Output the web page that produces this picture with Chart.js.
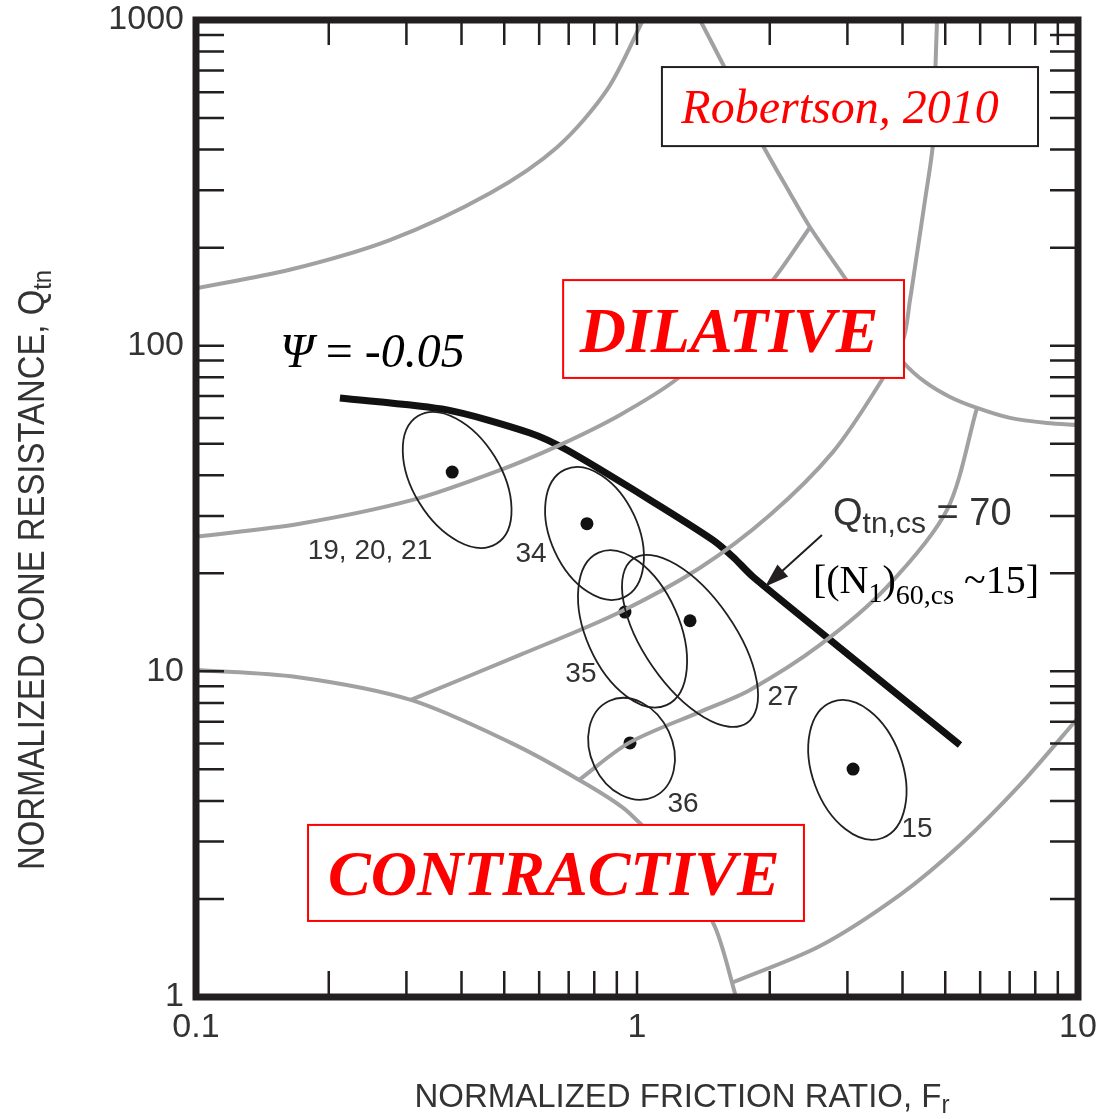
<!DOCTYPE html>
<html>
<head>
<meta charset="utf-8">
<script src="https://cdn.jsdelivr.net/npm/chart.js@4.4.1/dist/chart.umd.min.js"></script>
<style>
  html, body { margin: 0; padding: 0; background: #fff; }
  #wrap { width: 1099px; height: 1119px; position: relative; }
</style>
</head>
<body>
<div id="wrap"><canvas id="cpt"></canvas></div>
<script>
// tick labels
const xTickLabels = [0.1, 1, 10];
const yTickLabels = [1, 10, 100, 1000];
const minorSteps = [1, 2, 3, 4, 5, 6, 7, 8, 9];

// grey SBTn boundaries (Fr %, Qtn)
const bndA_fr = [0.1, 0.163, 0.275, 0.464, 0.659, 0.855, 1.032];
const bndA_q  = [150, 171, 211, 294, 407, 610, 1000];
const bndB_fr = [0.1, 0.172, 0.310, 0.489, 0.669, 0.915, 1.232, 1.625, 2.034, 2.468];
const bndB_q  = [25.9, 28.4, 33.6, 41.5, 49.6, 61.3, 79.0, 112, 159, 231];
const bndD_fr = [1.390, 1.625, 1.900, 2.223, 2.468, 2.994, 3.556, 4.031, 4.499, 5.126, 5.902, 7.013, 8.506, 10];
const bndD_q  = [1000, 663, 428, 294, 231, 158, 112, 88.5, 77.4, 69.6, 64.4, 60.0, 57.9, 57.1];
const bndF_fr = [0.307, 0.543, 0.906, 1.390, 2.002, 2.783, 3.556, 4.011, 4.159, 4.292, 4.499, 4.691, 4.740, 4.79];
const bndF_q  = [8.17, 11.23, 15.11, 20.8, 30.2, 47.2, 76.8, 104.1, 138, 183, 280, 419, 654, 1000];
const bndG_fr = [0.739, 0.959, 1.390, 1.804, 2.600, 3.689, 5.046, 5.902];
const bndG_q  = [4.64, 6.03, 7.51, 8.77, 12.05, 18.16, 31.3, 64.4];
const bndZ1_fr = [0.1, 0.169, 0.307, 0.518, 0.739, 0.959, 1.272, 1.503, 1.677];
const bndZ1_q  = [10.1, 9.61, 8.17, 6.03, 4.64, 3.68, 2.40, 1.64, 1];
const bndH_fr = [1.651, 2.600, 3.948, 5.40, 7.387, 10];
const bndH_q  = [1.11, 1.435, 2.06, 2.93, 4.48, 7.19];

// psi = -0.05 contour
const psiFr = [0.212, 0.371, 0.572, 0.694, 1.070, 1.487, 1.651, 1.833, 3.04, 5.40];
const psiQ  = [69.1, 63.5, 53.95, 47.8, 33.6, 25.3, 22.45, 19.5, 11.15, 5.94];

// case histories: mean points and scatter ellipses
const caseIds = ['19, 20, 21', '34', '35', '27', '36', '15'];
const caseFr  = [0.381, 0.770, 0.939, 1.319, 0.964, 3.09];
const caseQ   = [40.9, 28.4, 15.2, 14.3, 6.03, 5.01];
const ellFr    = [0.391, 0.801, 0.977, 1.319, 0.972, 3.16];
const ellQ     = [38.7, 26.5, 13.5, 12.4, 5.78, 4.98];
const ellAxFr  = [0.089, 0.067, 0.077, 0.129, 0.051, 0.057];   // major semi-axis, decades
const ellAxQ   = [-0.196, -0.196, -0.234, -0.252, -0.147, -0.209];
const ellRatio = [0.59, 0.62, 0.56, 0.455, 0.775, 0.62];
const labelFr  = [0.248, 0.575, 0.746, 2.144, 1.272, 4.314];
const labelQ   = [23.4, 22.9, 9.82, 8.34, 3.92, 3.28];

// arrow to the Qtn,cs = 70 line
const arrowFr = [2.627, 1.951];
const arrowQ  = [26.2, 18.2];

const GREY = '#a1a1a3';
const INK = '#231f20';
const SANS = '"Liberation Sans", Arial, sans-serif';
const SERIF = '"Liberation Serif", "Times New Roman", serif';

const pts = (fr, q) => fr.map((f, i) => ({ x: f, y: q[i] }));
const greyLine = (fr, q) => ({
    data: pts(fr, q), showLine: true, borderColor: GREY, borderWidth: 4,
    pointRadius: 0, tension: 0.3, fill: false
});

function runsWidth(ctx, runs) {
    return runs.reduce((w, r) => { ctx.font = r.font; return w + ctx.measureText(r.t).width; }, 0);
}
function drawRuns(ctx, runs, x, y, align, fitW, color) {
    const w = runsWidth(ctx, runs);
    const s = fitW ? fitW / w : 1;
    ctx.save();
    ctx.translate(x, y);
    ctx.scale(s, 1);
    ctx.fillStyle = color;
    ctx.textAlign = 'left';
    ctx.textBaseline = 'alphabetic';
    let cx = align === 'center' ? -w / 2 : (align === 'right' ? -w : 0);
    runs.forEach(r => {
        ctx.font = r.font;
        ctx.fillText(r.t, cx, r.dy || 0);
        cx += ctx.measureText(r.t).width;
    });
    ctx.restore();
}

// keep the plot frame where it is in the figure: no extra room for edge labels
const noPad = s => { s.paddingTop = 0; s.paddingBottom = 0; s.paddingLeft = 0; s.paddingRight = 0; };

const overlay = {
    id: 'overlay',
    afterDraw(chart) {
        const { ctx, chartArea: { left, top, right, bottom }, scales: { x, y } } = chart;
        const X = v => x.getPixelForValue(v);
        const Y = v => y.getPixelForValue(v);

        // ellipses
        ctx.save();
        ctx.strokeStyle = INK;
        ctx.lineWidth = 1.8;
        ellFr.forEach((f, i) => {
            const cx = X(f), cy = Y(ellQ[i]);
            const ex = X(f * Math.pow(10, ellAxFr[i])), ey = Y(ellQ[i] * Math.pow(10, ellAxQ[i]));
            const a = Math.hypot(ex - cx, ey - cy);
            ctx.beginPath();
            ctx.ellipse(cx, cy, a, a * ellRatio[i], Math.atan2(ey - cy, ex - cx), 0, Math.PI * 2);
            ctx.stroke();
        });
        ctx.restore();

        // case labels
        ctx.save();
        ctx.fillStyle = '#333';
        ctx.font = '28px ' + SANS;
        ctx.textAlign = 'center';
        ctx.textBaseline = 'middle';
        caseIds.forEach((t, i) => ctx.fillText(t, X(labelFr[i]), Y(labelQ[i])));
        ctx.restore();

        // boxes
        const box = (f0, f1, q0, q1, col) => {
            const bx = X(f0), by = Y(q0), bw = X(f1) - bx, bh = Y(q1) - by;
            ctx.save();
            ctx.fillStyle = '#fff';
            ctx.fillRect(bx, by, bw, bh);
            ctx.strokeStyle = col;
            ctx.lineWidth = 2;
            ctx.strokeRect(bx, by, bw, bh);
            ctx.restore();
        };
        box(1.139, 8.116, 717, 410, INK);
        box(0.680, 4.031, 159, 79.6, '#ff0000');
        box(0.1795, 2.391, 3.376, 1.712, '#ff0000');

        drawRuns(ctx, [{ t: 'Robertson, 2010', font: 'italic 48px ' + SERIF }], X(2.886), Y(483), 'center', 0, '#ff0000');
        drawRuns(ctx, [{ t: 'DILATIVE', font: 'italic bold 64px ' + SERIF }], X(1.617), Y(95.6), 'center', 0, '#ff0000');
        drawRuns(ctx, [{ t: 'CONTRACTIVE', font: 'italic bold 64px ' + SERIF }], X(0.648), Y(2.06), 'center', 0, '#ff0000');

        // psi label
        drawRuns(ctx, [
            { t: 'Ψ', font: 'italic 48px ' + SERIF },
            { t: ' = ', font: '48px ' + SERIF },
            { t: '-0.05', font: 'italic 48px ' + SERIF }
        ], X(0.155), Y(86.0), 'left', 0, '#000');

        // Qtn,cs = 70 and (N1)60,cs
        drawRuns(ctx, [
            { t: 'Q', font: '38px ' + SANS },
            { t: 'tn,cs', font: '30px ' + SANS, dy: 8 },
            { t: ' = 70', font: '38px ' + SANS }
        ], X(2.783), Y(28.1), 'left', 0, '#333');
        drawRuns(ctx, [
            { t: '[(N', font: '40px ' + SERIF },
            { t: '1', font: '28px ' + SERIF, dy: 9 },
            { t: ')', font: '40px ' + SERIF },
            { t: '60,cs', font: '28px ' + SERIF, dy: 11 },
            { t: ' ~15]', font: '40px ' + SERIF }
        ], X(2.506), Y(17.4), 'left', 0, '#000');

        // arrow
        const ax0 = X(arrowFr[0]), ay0 = Y(arrowQ[0]), ax1 = X(arrowFr[1]), ay1 = Y(arrowQ[1]);
        const ang = Math.atan2(ay1 - ay0, ax1 - ax0);
        ctx.save();
        ctx.strokeStyle = INK;
        ctx.fillStyle = INK;
        ctx.lineWidth = 2;
        ctx.beginPath();
        ctx.moveTo(ax0, ay0);
        ctx.lineTo(ax1 - 18 * Math.cos(ang), ay1 - 18 * Math.sin(ang));
        ctx.stroke();
        ctx.beginPath();
        ctx.moveTo(ax1, ay1);
        ctx.lineTo(ax1 - 24 * Math.cos(ang) + 8 * Math.sin(ang), ay1 - 24 * Math.sin(ang) - 8 * Math.cos(ang));
        ctx.lineTo(ax1 - 24 * Math.cos(ang) - 8 * Math.sin(ang), ay1 - 24 * Math.sin(ang) + 8 * Math.cos(ang));
        ctx.closePath();
        ctx.fill();
        ctx.restore();

        // frame and inward ticks
        ctx.save();
        ctx.strokeStyle = INK;
        ctx.lineWidth = 2.5;
        ctx.beginPath();
        [0.1, 1].forEach(d => minorSteps.forEach(m => {
            const px = X(d * m);
            ctx.moveTo(px, bottom); ctx.lineTo(px, bottom - 26);
            ctx.moveTo(px, top); ctx.lineTo(px, top + 25);
        }));
        [1, 10, 100].forEach(d => minorSteps.forEach(m => {
            const py = Y(d * m);
            ctx.moveTo(left, py); ctx.lineTo(left + 28, py);
            ctx.moveTo(right, py); ctx.lineTo(right - 28, py);
        }));
        ctx.stroke();
        ctx.lineWidth = 7;
        ctx.strokeRect(left, top, right - left, bottom - top);
        ctx.restore();

        // axis titles
        drawRuns(ctx, [
            { t: 'NORMALIZED FRICTION RATIO, F', font: '34px ' + SANS },
            { t: 'r', font: '25px ' + SANS, dy: 6 }
        ], 682, 1107, 'center', 535, '#333');
        ctx.save();
        ctx.translate(44, 570);
        ctx.rotate(-Math.PI / 2);
        drawRuns(ctx, [
            { t: 'NORMALIZED CONE RESISTANCE, Q', font: '36px ' + SANS },
            { t: 'tn', font: '26px ' + SANS, dy: 7 }
        ], 0, 0, 'center', 600, '#333');
        ctx.restore();
    }
};

new Chart(document.getElementById('cpt'), {
    type: 'scatter',
    data: {
        datasets: [
            greyLine(bndA_fr, bndA_q),
            greyLine(bndB_fr, bndB_q),
            greyLine(bndD_fr, bndD_q),
            greyLine(bndF_fr, bndF_q),
            greyLine(bndG_fr, bndG_q),
            greyLine(bndZ1_fr, bndZ1_q),
            greyLine(bndH_fr, bndH_q),
            {
                data: pts(psiFr, psiQ), showLine: true, borderColor: '#111', borderWidth: 7,
                pointRadius: 0, tension: 0.25, borderCapStyle: 'butt', fill: false
            },
            {
                data: pts(caseFr, caseQ), pointRadius: 6.5, backgroundColor: '#111', borderWidth: 0
            }
        ]
    },
    options: {
        responsive: true,
        maintainAspectRatio: false,
        animation: false,
        layout: { padding: { top: 20, right: 21, left: 0, bottom: 0 } },
        plugins: { legend: { display: false }, tooltip: { enabled: false } },
        scales: {
            x: {
                type: 'logarithmic', min: 0.1, max: 10, position: 'bottom',
                afterFit: s => { s.height = 122; noPad(s); },
                afterBuildTicks: s => { s.ticks = xTickLabels.map(v => ({ value: v })); },
                grid: { display: false, drawTicks: false },
                border: { display: false },
                ticks: {
                    autoSkip: false, maxRotation: 0, padding: 10, color: '#333',
                    font: { family: SANS, size: 34 },
                    callback: v => String(v)
                }
            },
            y: {
                type: 'logarithmic', min: 1, max: 1000,
                afterFit: s => { s.width = 196; noPad(s); },
                afterBuildTicks: s => { s.ticks = yTickLabels.map(v => ({ value: v })); },
                grid: { display: false, drawTicks: false },
                border: { display: false },
                ticks: {
                    autoSkip: false, padding: 12, color: '#333',
                    font: { family: SANS, size: 34 },
                    callback: v => String(v)
                }
            }
        }
    },
    plugins: [overlay]
});
</script>
</body>
</html>
